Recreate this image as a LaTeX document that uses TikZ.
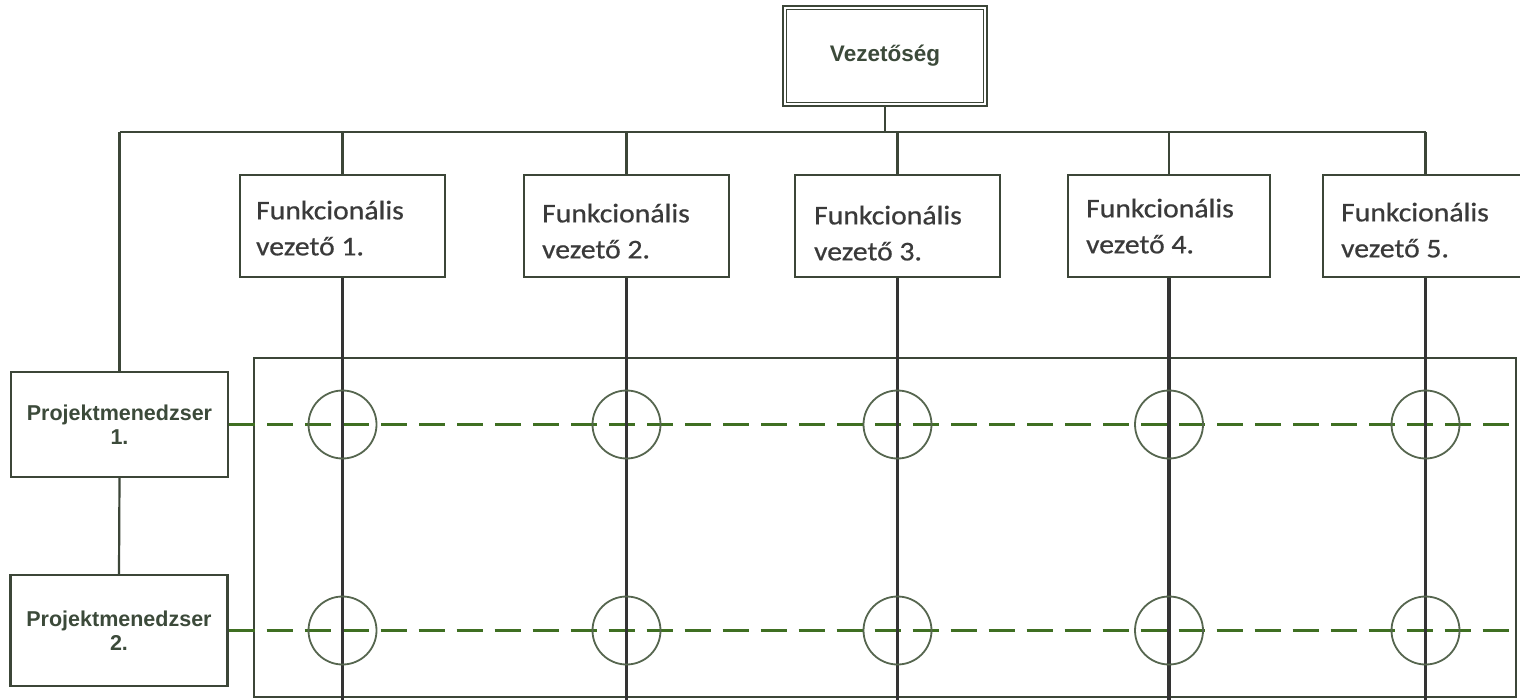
\documentclass[tikz,border=0pt]{standalone}
\usepackage{fontspec}
\setmainfont{Liberation Sans}
\newfontfamily\fvfont[FakeStretch=1.1,FakeBold=0.6]{Carlito}
\usetikzlibrary{calc}

\definecolor{linec}{HTML}{3C4638}
\definecolor{rulec}{HTML}{333333}
\definecolor{dashc}{HTML}{3F6F22}
\definecolor{ringc}{HTML}{56664F}
\definecolor{textc}{HTML}{3A3A3A}
\definecolor{pmtext}{HTML}{3C4A3A}

\tikzset{
  link/.style={draw=linec, line width=2.2pt},
  column/.style={draw=rulec, line width=3.2pt},
  project/.style={draw=dashc, line width=3pt, dash pattern=on 26pt off 12pt},
  ring/.style={draw=ringc, line width=1.8pt, circle, minimum size=68pt, inner sep=0pt},
  headbox/.style={draw=linec, line width=2.6pt, fill=white, minimum width=204pt,
    minimum height=100pt, inner sep=0pt, text=pmtext,
    font=\fontsize{22.5}{24}\selectfont\bfseries},
  funcbox/.style={draw=linec, line width=2.2pt, fill=white, minimum width=205pt,
    minimum height=102pt, inner sep=0pt},
  functext/.style={anchor=north west, inner sep=0pt, align=left, text=textc,
    font=\fvfont\fontsize{27}{36}\selectfont},
  pmbox/.style={draw=linec, line width=2.2pt, fill=white, minimum width=217pt,
    inner sep=0pt, align=center, text=pmtext,
    font=\fontsize{21.5}{24}\selectfont\bfseries},
  frame/.style={draw=linec, line width=2.2pt, minimum width=1262pt,
    minimum height=339pt, inner sep=0pt}
}

\begin{document}
\begin{tikzpicture}[x=1pt, y=-1pt]
  \useasboundingbox[fill=white] (0,0) rectangle (1520,700);

  % outer frame of the matrix
  \node[frame] (matrix) at (885,527.5) {};

  % top management
  \node[headbox] (top) at (885,56) {Vezetőség};
  \draw[linec, line width=1.4pt]
    ([shift={(5,5)}]top.north west) rectangle ([shift={(-5,-5)}]top.south east);

  % functional managers
  \node[funcbox] (fv1) at (342.5,226) {};
  \node[funcbox] (fv2) at (626.5,226) {};
  \node[funcbox] (fv3) at (897.5,226) {};
  \node[funcbox, minimum width=202pt] (fv4) at (1169,226) {};
  \node[funcbox] (fv5) at (1425.5,226) {};
  \node[functext] (fv1t) at ([shift={(17,26.5)}]fv1.north west) {Funkcionális\\vezető 1.};
  \node[functext] (fv2t) at ([shift={(19,29.5)}]fv2.north west) {Funkcionális\\vezető 2.};
  \node[functext] (fv3t) at ([shift={(20,31.5)}]fv3.north west) {Funkcionális\\vezető 3.};
  \node[functext] (fv4t) at ([shift={(19,24.5)}]fv4.north west) {Funkcionális\\vezető 4.};
  \node[functext] (fv5t) at ([shift={(19,28.5)}]fv5.north west) {Funkcionális\\vezető 5.};

  % project managers
  \node[pmbox, minimum height=105pt] (pm1) at (119.5,424.5) {Projektmenedzser\\1.};
  \node[pmbox, minimum height=111pt] (pm2) at (119,630.5) {Projektmenedzser\\2.};

  % reporting lines
  \coordinate (bus) at (119,132);
  \coordinate (bottom) at (0,702);
  \draw[link] (top.south) -- (top.south |- bus);
  \draw[link] (pm1.north |- bus) -- (fv5.north |- bus);
  \draw[link] (pm1.north |- bus) -- (pm1.north);
  \draw[link] (pm1.south) -- (pm2.north);
  \foreach \f in {fv1,fv2,fv3,fv4,fv5}{
    \draw[link] (\f.north) -- (\f.north |- bus);
  }

  % project lines across the functions
  \draw[project] (pm1.east) -- (pm1.east -| matrix.east);
  \draw[project] (pm2.east) -- (pm2.east -| matrix.east);

  % functional columns
  \foreach \f in {fv1,fv2,fv3,fv4,fv5}{
    \draw[column] (\f.south) -- (\f.south |- bottom);
  }

  % crossing points
  \foreach \f [count=\i] in {fv1,fv2,fv3,fv4,fv5}{
    \node[ring] (a\i) at (\f.south |- pm1.east) {};
    \node[ring] (b\i) at (\f.south |- pm2.east) {};
  }
\end{tikzpicture}
\end{document}
